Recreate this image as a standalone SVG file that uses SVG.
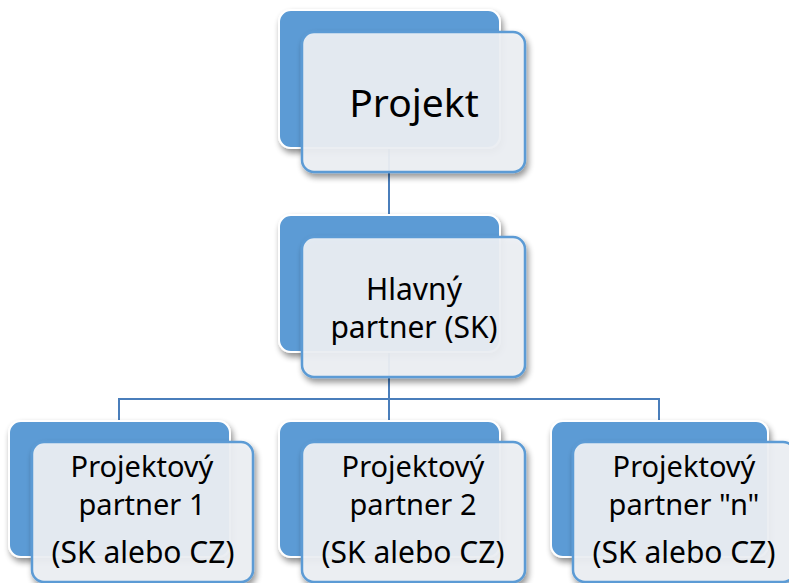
<svg xmlns="http://www.w3.org/2000/svg" width="789" height="583" viewBox="0 0 789 583">
<defs>
<filter id="sh" x="-10%" y="-10%" width="130%" height="140%">
<feGaussianBlur in="SourceAlpha" stdDeviation="3"/>
<feOffset dx="2" dy="4" result="b"/>
<feComponentTransfer><feFuncA type="linear" slope="0.45"/></feComponentTransfer>
<feMerge><feMergeNode/><feMergeNode in="SourceGraphic"/></feMerge>
</filter>
</defs>
<style>
.back{fill:#5B9BD5;stroke:#ffffff;stroke-width:2}
.front{fill:#EEF1F5;fill-opacity:0.92;stroke:#5B9BD5;stroke-width:2.5}
.conn{fill:none;stroke:#4A7EBB;stroke-width:2}
text{font-family:"Noto Sans","Open Sans","Liberation Sans",sans-serif;fill:#000;text-anchor:middle}
.t1{font-size:39px}
.t2{font-size:29px}
.t3{font-size:30px}
</style>
<rect width="789" height="583" fill="#ffffff"/>
<g id="connectors">
<path class="conn" d="M389,148 V215"/>
<path class="conn" d="M389,352 V399"/>
<path class="conn" d="M119,421 V399 H659 V421"/>
<path class="conn" d="M389,399 V421"/>
</g>
<g id="projekt">
<rect class="back" x="279" y="10" width="221" height="138" rx="12" filter="url(#sh)"/>
<rect class="front" x="302" y="32" width="223" height="140" rx="12" filter="url(#sh)"/>
<text class="t1" x="414" y="117">Projekt</text>
</g>
<g id="hlavny">
<rect class="back" x="279" y="215" width="221" height="137" rx="12" filter="url(#sh)"/>
<rect class="front" x="302" y="237" width="223" height="140" rx="12" filter="url(#sh)"/>
<text class="t3" x="414" y="300">Hlavný</text>
<text class="t3" x="414" y="338">partner (SK)</text>
</g>
<g id="partner1">
<rect class="back" x="9" y="421" width="221" height="136" rx="12" filter="url(#sh)"/>
<rect class="front" x="32" y="442" width="221" height="140" rx="12" filter="url(#sh)"/>
<text class="t2" x="142" y="477">Projektový</text>
<text class="t2" x="142" y="515">partner 1</text>
<text class="t3" x="143" y="563">(SK alebo CZ)</text>
</g>
<g id="partner2">
<rect class="back" x="279" y="421" width="221" height="136" rx="12" filter="url(#sh)"/>
<rect class="front" x="302" y="442" width="223" height="140" rx="12" filter="url(#sh)"/>
<text class="t2" x="413" y="477">Projektový</text>
<text class="t2" x="413" y="515">partner 2</text>
<text class="t3" x="413" y="563">(SK alebo CZ)</text>
</g>
<g id="partnern">
<rect class="back" x="551" y="421" width="217" height="136" rx="12" filter="url(#sh)"/>
<rect class="front" x="573" y="442" width="222" height="140" rx="12" filter="url(#sh)"/>
<text class="t2" x="684" y="477">Projektový</text>
<text class="t2" x="684" y="515">partner "n"</text>
<text class="t3" x="684" y="563">(SK alebo CZ)</text>
</g>
</svg>
